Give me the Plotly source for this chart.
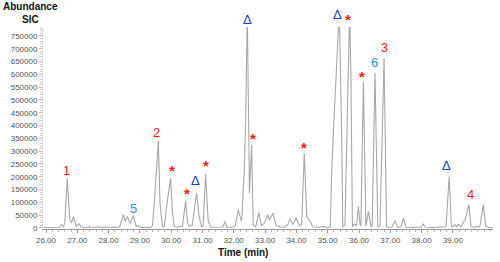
import plotly.graph_objects as go

# Chromatogram trace (time in min, abundance)
times = [25.92, 26.10, 26.30, 26.42, 26.50, 26.56, 26.60, 26.68, 26.76, 26.81, 26.89, 26.96, 27.06, 27.13,
         27.30, 27.40, 27.48, 27.60, 27.70, 27.80, 27.92, 28.05, 28.15, 28.28, 28.36, 28.47, 28.53, 28.60,
         28.69, 28.79, 28.88, 28.95, 29.05, 29.20, 29.33, 29.40, 29.46, 29.59, 29.64, 29.72, 29.78, 29.86,
         29.98, 30.04, 30.10, 30.22, 30.36, 30.46, 30.52, 30.59, 30.67, 30.81, 30.89, 30.97, 31.02, 31.10,
         31.18, 31.26, 31.50, 31.65, 31.72, 31.78, 31.95, 32.05, 32.14, 32.25, 32.33, 32.38, 32.43, 32.50,
         32.57, 32.62, 32.70, 32.80, 32.88, 32.98, 33.09, 33.14, 33.25, 33.35, 33.50, 33.60, 33.72, 33.80,
         33.88, 33.99, 34.10, 34.17, 34.25, 34.33, 34.42, 34.52, 34.70, 34.85, 34.95, 35.05, 35.08, 35.13,
         35.20, 35.29, 35.37, 35.45, 35.48, 35.55, 35.61, 35.70, 35.74, 35.79, 35.85, 35.92, 35.98, 36.03,
         36.06, 36.14, 36.22, 36.30, 36.38, 36.42, 36.51, 36.60, 36.67, 36.80, 36.88, 36.96, 37.05, 37.15,
         37.24, 37.34, 37.42, 37.50, 37.70, 37.90, 37.98, 38.05, 38.12, 38.35, 38.55, 38.65, 38.78, 38.88,
         38.95, 39.00, 39.06, 39.12, 39.18, 39.25, 39.39, 39.45, 39.51, 39.58, 39.68, 39.76, 39.86, 39.97,
         40.05, 40.15, 40.28]
abundance = [2000, 1500, 2000, 3000, 13000, 4000, 20000, 194000, 30000, 22000, 43000, 6000, 16000, 3000,
             2000, 5000, 2000, 3000, 5000, 2000, 4000, 2000, 4000, 3000, 6000, 52000, 26000, 45000,
             17000, 49000, 6000, 8000, 2000, 3000, 2000, 8000, 98000, 342000, 98000, 4000, 6000, 90000,
             195000, 60000, 5000, 4000, 8000, 104000, 20000, 6000, 10000, 137000, 45000, 5000, 10000, 211000,
             30000, 3000, 2000, 4000, 25000, 3000, 2000, 10000, 71000, 25000, 216000, 423000, 850000, 137000,
             325000, 10000, 5000, 61000, 8000, 20000, 52000, 30000, 58000, 10000, 3000, 4000, 12000, 35000,
             14000, 39000, 8000, 15000, 293000, 45000, 30000, 5000, 3000, 6000, 3000, 2000, 5000, 228000,
             423000, 657000, 850000, 333000, 5000, 10000, 350000, 850000, 606000, 5000, 15000, 8000, 84000, 15000,
             8000, 573000, 8000, 65000, 5000, 8000, 605000, 5000, 8000, 664000, 5000, 3000, 4000, 28000,
             3000, 5000, 39000, 3000, 2000, 3000, 4000, 16000, 3000, 2000, 3000, 2000, 5000, 201000,
             8000, 5000, 13000, 5000, 13000, 4000, 32000, 60000, 91000, 5000, 3000, 6000, 5000, 91000,
             6000, 3000, 2000]

# Peak annotations
label_text = ["1", "5", "2", "*", "*", "Δ", "*", "Δ", "*", "*", "Δ", "*", "*", "6", "3", "Δ", "4"]
label_t = [26.67, 28.79, 29.54, 30.04, 30.51, 30.79, 31.11, 32.44, 32.62, 34.24, 35.31, 35.66, 36.09,
           36.51, 36.81, 38.80, 39.55]
label_a = [224000, 78000, 371000, 225000, 134000, 186000, 245000, 813000, 351000, 315000, 833000, 814000,
           590000, 648000, 705000, 243000, 130000]
label_kind = ["num", "blue", "num", "star", "star", "delta", "star", "delta", "star", "star", "delta",
              "star", "star", "blue", "num", "delta", "num"]

y_ticks = list(range(0, 750001, 50000))
x_ticks = [26, 27, 28, 29, 30, 31, 32, 33, 34, 35, 36, 37, 38, 39]
x_ticktext = ["%.2f" % v for v in x_ticks]

Y_RANGE = [-4000, 785000]

fig = go.Figure()
fig.add_trace(go.Scatter(x=times, y=abundance, mode="lines",
                         line=dict(color="#a8a8a8", width=1.1), hoverinfo="skip", showlegend=False))

styles = {
    "num": dict(color="#ff1a1a", size=13, bold=False),
    "blue": dict(color="#2b8fd6", size=13, bold=False),
    "star": dict(color="#ff1a1a", size=15, bold=True),
    "delta": dict(color="#1a3fcc", size=13, bold=False),
}
for txt, t, a, k in zip(label_text, label_t, label_a, label_kind):
    st = styles[k]
    if a > Y_RANGE[1]:
        yref, yv = "paper", (a - Y_RANGE[0]) / (Y_RANGE[1] - Y_RANGE[0])
    else:
        yref, yv = "y", a
    fig.add_annotation(x=t, y=yv, yref=yref, text=("<b>%s</b>" % txt) if st["bold"] else txt,
                       showarrow=False, xanchor="center", yanchor="middle",
                       font=dict(family="Liberation Sans, Arial", size=st["size"], color=st["color"]))

fig.add_annotation(xref="paper", yref="paper", x=-0.027, y=1.10, text="<b>Abundance</b>", showarrow=False,
                   xanchor="center", yanchor="middle", font=dict(family="Liberation Sans, Arial", size=10, color="#111"))
fig.add_annotation(xref="paper", yref="paper", x=-0.027, y=1.036, text="<b>SIC</b>", showarrow=False,
                   xanchor="center", yanchor="middle", font=dict(family="Liberation Sans, Arial", size=10, color="#111"))
fig.add_annotation(xref="paper", yref="paper", x=0.444, y=-0.114, text="<b>Time (min)</b>", showarrow=False,
                   xanchor="center", yanchor="middle", font=dict(family="Liberation Sans, Arial", size=10, color="#111"))

fig.update_layout(
    width=500, height=262,
    margin=dict(l=43, r=7, t=27, b=33),
    paper_bgcolor="white", plot_bgcolor="white",
    font=dict(family="Liberation Sans, Arial", size=8, color="#555"),
    xaxis=dict(range=[25.904, 40.28], tickvals=x_ticks, ticktext=x_ticktext, showgrid=False, zeroline=False,
               showline=True, linecolor="#999", linewidth=1, ticks="outside", ticklen=3, tickcolor="#999",
               minor=dict(dtick=0.2, ticks="outside", ticklen=2, tickcolor="#bbb"),
               tickfont=dict(size=8, color="#555")),
    yaxis=dict(range=Y_RANGE, tickvals=y_ticks, ticktext=[str(v) for v in y_ticks], showgrid=False,
               zeroline=False, showline=True, linecolor="#ddd", linewidth=1, ticks="outside", ticklen=3,
               tickcolor="#bbb", minor=dict(dtick=10000, ticks="outside", ticklen=2, tickcolor="#ccc"),
               tickfont=dict(size=8, color="#555")),
)

fig.write_html("out.html", config={"displayModeBar": False},
               post_script="document.body.style.margin='0';")
